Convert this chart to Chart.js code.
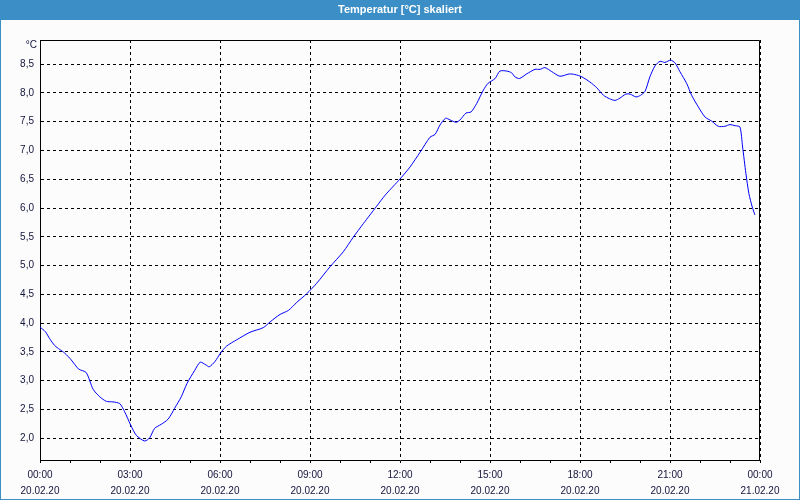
<!DOCTYPE html>
<html>
<head>
<meta charset="utf-8">
<script src="https://cdn.jsdelivr.net/npm/chart.js@4"></script>
<style>
  html, body { margin: 0; padding: 0; background: #fbfcfb; }
  canvas { display: block; }
</style>
</head>
<body>
<canvas id="myChart" width="800" height="500"></canvas>
<script>
const chartTitle = "Temperatur [°C] skaliert";
const unitLabel = "°C";

// hours since 20.02.20 00:00
const hours = [
  0.00, 0.18, 0.32, 0.49, 0.66, 0.82, 1.04, 1.29, 1.54, 1.77,
  1.99, 2.21, 2.43, 2.66, 2.82, 3.02, 3.21, 3.49, 3.66, 3.82,
  4.04, 4.27, 4.49, 4.71, 4.90, 5.16, 5.34, 5.54, 5.64, 5.83,
  6.02, 6.22, 6.56, 7.00, 7.44, 7.67, 8.00, 8.28, 8.56, 8.89,
  9.22, 9.67, 10.11, 10.44, 10.78, 11.00, 11.22, 11.50, 11.78, 12.01,
  12.33, 12.67, 13.00, 13.17, 13.33, 13.52, 13.67, 13.87, 14.00, 14.20,
  14.37, 14.56, 14.78, 14.94, 15.17, 15.33, 15.56, 15.72, 15.83, 15.98,
  16.22, 16.50, 16.67, 16.83, 17.06, 17.33, 17.64, 17.83, 18.06, 18.33,
  18.56, 18.78, 18.98, 19.17, 19.33, 19.53, 19.67, 19.87, 20.02, 20.17,
  20.33, 20.50, 20.67, 20.83, 21.02, 21.17, 21.33, 21.56, 21.72, 21.94,
  22.17, 22.39, 22.61, 22.83, 23.00, 23.17, 23.33, 23.42, 23.53, 23.63,
  23.74, 23.83
];
const temps = [
  3.93, 3.85, 3.73, 3.61, 3.54, 3.48, 3.36, 3.20, 3.14, 2.85,
  2.72, 2.64, 2.63, 2.60, 2.46, 2.23, 2.05, 1.95, 2.01, 2.17,
  2.24, 2.33, 2.52, 2.72, 2.95, 3.18, 3.32, 3.27, 3.24, 3.33,
  3.48, 3.60, 3.71, 3.84, 3.92, 4.02, 4.15, 4.22, 4.36, 4.51,
  4.69, 4.98, 5.24, 5.49, 5.73, 5.88, 6.03, 6.22, 6.38, 6.51,
  6.71, 6.97, 7.23, 7.28, 7.44, 7.56, 7.53, 7.49, 7.53, 7.65,
  7.67, 7.82, 8.05, 8.17, 8.25, 8.38, 8.38, 8.35, 8.28, 8.25,
  8.33, 8.41, 8.41, 8.44, 8.37, 8.29, 8.33, 8.32, 8.28, 8.19,
  8.09, 7.96, 7.90, 7.87, 7.91, 7.98, 7.98, 7.93, 7.96, 8.03,
  8.28, 8.47, 8.55, 8.53, 8.57, 8.52, 8.37, 8.16, 7.96, 7.76,
  7.58, 7.51, 7.42, 7.42, 7.45, 7.43, 7.41, 7.06, 6.60, 6.25,
  6.02, 5.88
];

const yTicks = [2.0, 2.5, 3.0, 3.5, 4.0, 4.5, 5.0, 5.5, 6.0, 6.5, 7.0, 7.5, 8.0, 8.5];
const xTickHours = [0, 1, 2, 3, 4, 5, 6, 7, 8, 9, 10, 11, 12, 13, 14, 15, 16, 17, 18, 19, 20, 21, 22, 23, 24];
const timeLabels = ["00:00", "03:00", "06:00", "09:00", "12:00", "15:00", "18:00", "21:00", "00:00"];
const dateLabels = ["20.02.20", "20.02.20", "20.02.20", "20.02.20", "20.02.20", "20.02.20", "20.02.20", "20.02.20", "21.02.20"];

const textColor = "#14143c";
const fontFamily = "'Liberation Sans', Arial, sans-serif";

// window frame, title bar, top/right plot border and unit label
const framePlugin = {
  id: "frame",
  beforeDraw(chart) {
    const ctx = chart.ctx;
    const w = chart.width, h = chart.height;
    ctx.save();
    ctx.fillStyle = "#fbfcfb";
    ctx.fillRect(0, 0, w, h);
    ctx.fillStyle = "#3c8fc6";
    ctx.fillRect(0, 0, w, 20);
    ctx.strokeStyle = "#3c8fc6";
    ctx.lineWidth = 2;
    ctx.strokeRect(0, 0, w, h);
    ctx.fillStyle = "#ffffff";
    ctx.font = "bold 11px " + fontFamily;
    ctx.textAlign = "center";
    ctx.textBaseline = "middle";
    ctx.fillText(chartTitle, w / 2, 10);
    ctx.restore();
  },
  afterDraw(chart) {
    const ctx = chart.ctx;
    const a = chart.chartArea;
    ctx.save();
    ctx.strokeStyle = "#000000";
    ctx.lineWidth = 1;
    ctx.beginPath();
    ctx.moveTo(Math.round(a.left) + 0.5, Math.round(a.top) + 0.5);
    ctx.lineTo(Math.round(a.right) - 0.5, Math.round(a.top) + 0.5);
    ctx.lineTo(Math.round(a.right) - 0.5, Math.round(a.bottom) + 0.5);
    ctx.stroke();
    ctx.fillStyle = textColor;
    ctx.font = "10px " + fontFamily;
    ctx.textAlign = "right";
    ctx.textBaseline = "middle";
    ctx.fillText(unitLabel, a.left - 3, a.top + 5);
    ctx.restore();
  }
};

const config = {
  type: "line",
  data: {
    datasets: [
      {
        data: hours.map((h, i) => ({ x: h, y: temps[i] })),
        borderColor: "#0000ff",
        borderWidth: 1,
        pointRadius: 0,
        tension: 0.25,
        fill: false
      }
    ]
  },
  plugins: [framePlugin],
  options: {
    responsive: false,
    animation: false,
    layout: {
      padding: { top: 40, right: 40, left: 0, bottom: 0 }
    },
    plugins: {
      legend: { display: false },
      title: { display: false },
      tooltip: { enabled: false }
    },
    scales: {
      x: {
        type: "linear",
        min: 0,
        max: 24,
        afterFit(scale) { scale.height = 40; },
        afterBuildTicks(scale) {
          scale.ticks = xTickHours.map((v) => ({ value: v }));
        },
        border: { display: true, color: "#000000", width: 1, dash: [3, 3] },
        grid: {
          color: (c) => (c.tick && c.tick.value % 3 === 0 ? "#000000" : "rgba(0,0,0,0)"),
          tickColor: "#000000",
          tickLength: 3,
          tickBorderDash: [],
          lineWidth: 1
        },
        ticks: {
          autoSkip: false,
          maxRotation: 0,
          padding: 4,
          color: textColor,
          font: { family: fontFamily, size: 10, lineHeight: 1.6 },
          callback(value) {
            if (value % 3 !== 0) return "";
            const i = value / 3;
            return [timeLabels[i], dateLabels[i]];
          }
        }
      },
      y: {
        type: "linear",
        min: 1.62,
        max: 8.92,
        afterFit(scale) { scale.width = 40; },
        afterBuildTicks(scale) {
          scale.ticks = yTicks.map((v) => ({ value: v }));
        },
        border: { display: true, color: "#000000", width: 1, dash: [3, 3] },
        grid: {
          color: "#000000",
          lineWidth: 1,
          drawTicks: false
        },
        ticks: {
          padding: 6,
          color: textColor,
          font: { family: fontFamily, size: 10 },
          callback(value) {
            return value.toFixed(1).replace(".", ",");
          }
        }
      }
    }
  }
};

const myChart = new Chart(document.getElementById("myChart"), config);
</script>
</body>
</html>
